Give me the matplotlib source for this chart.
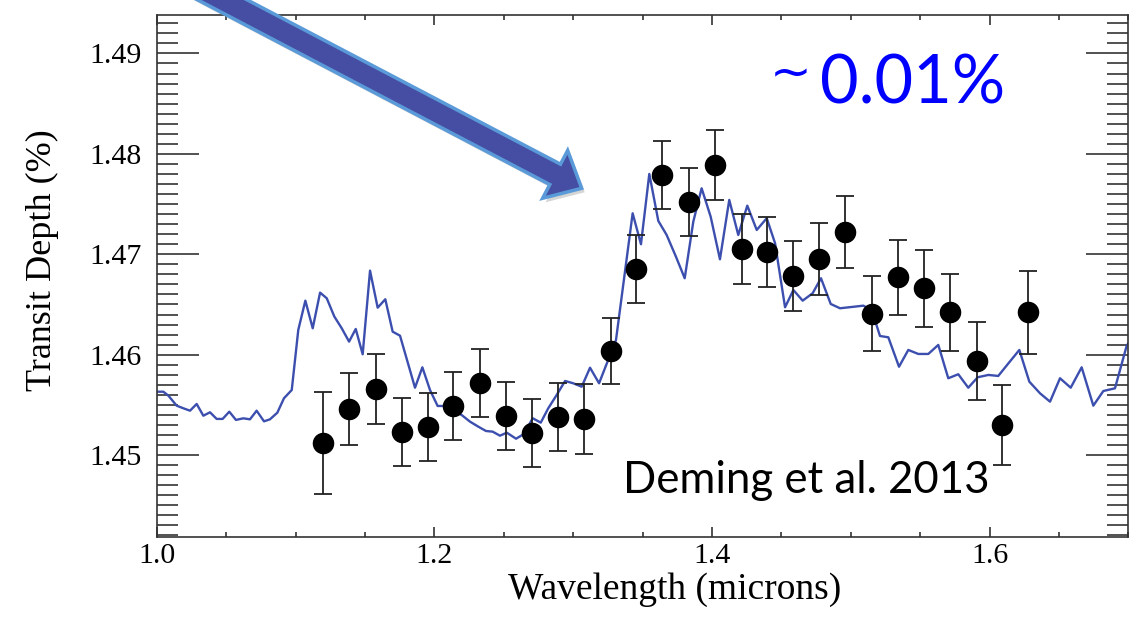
import matplotlib
matplotlib.use("Agg")
import matplotlib.pyplot as plt
from matplotlib.ticker import MultipleLocator, FormatStrFormatter
from matplotlib.patches import FancyArrow

# model transmission spectrum (traced vertices)
wave_model = [
    1.0000, 1.0048, 1.0084, 1.0144, 1.0192, 1.0240, 1.0288, 1.0336, 1.0384, 1.0432,
    1.0475, 1.0523, 1.0571, 1.0624, 1.0672, 1.0720, 1.0773, 1.0816, 1.0869, 1.0917,
    1.0973, 1.1020, 1.1071, 1.1124, 1.1177, 1.1225, 1.1280, 1.1333, 1.1386, 1.1434,
    1.1484, 1.1537, 1.1592, 1.1647, 1.1700, 1.1753, 1.1861, 1.1914, 1.1969, 1.2024,
    1.2077, 1.2197, 1.2257, 1.2317, 1.2372, 1.2421, 1.2473, 1.2522, 1.2589, 1.2646,
    1.2709, 1.2767, 1.2821, 1.2882, 1.2942, 1.3001, 1.3062, 1.3122, 1.3187, 1.3309,
    1.3429, 1.3489, 1.3549, 1.3614, 1.3674, 1.3741, 1.3804, 1.3866, 1.3926, 1.3991,
    1.4058, 1.4125, 1.4190, 1.4255, 1.4323, 1.4395, 1.4455, 1.4527, 1.4587, 1.4654,
    1.4726, 1.4786, 1.4856, 1.4923, 1.5091, 1.5151, 1.5211, 1.5271, 1.5348, 1.5415,
    1.5487, 1.5559, 1.5631, 1.5703, 1.5775, 1.5847, 1.5915, 1.5992, 1.6063, 1.6140,
    1.6215, 1.6287, 1.6364, 1.6436, 1.6508, 1.6585, 1.6664, 1.6748, 1.6820, 1.6904,
    1.6988, 1.7060,
]
depth_model = [
    1.45631, 1.45631, 1.45592, 1.45492, 1.45466, 1.45442, 1.45509, 1.45392, 1.45426, 1.45360,
    1.45360, 1.45432, 1.45350, 1.45366, 1.45356, 1.45442, 1.45336, 1.45356, 1.45422, 1.45566,
    1.45648, 1.46246, 1.46538, 1.46263, 1.46618, 1.46562, 1.46379, 1.46263, 1.46130, 1.46256,
    1.46004, 1.46837, 1.46468, 1.46552, 1.46229, 1.46189, 1.45671, 1.45874, 1.45648, 1.45489,
    1.45489, 1.45399, 1.45333, 1.45283, 1.45240, 1.45233, 1.45193, 1.45223, 1.45163, 1.45210,
    1.45367, 1.45323, 1.45466, 1.45599, 1.45738, 1.45715, 1.45681, 1.45870, 1.45715, 1.46146,
    1.47408, 1.47100, 1.47800, 1.47332, 1.47192, 1.46976, 1.46761, 1.47325, 1.47657, 1.47375,
    1.46950, 1.47541, 1.47192, 1.47484, 1.47242, 1.47359, 1.47110, 1.46472, 1.46644, 1.46538,
    1.46612, 1.46761, 1.46505, 1.46462, 1.46488, 1.46445, 1.46186, 1.46173, 1.45880, 1.46047,
    1.46007, 1.46007, 1.46097, 1.45765, 1.45805, 1.45671, 1.45775, 1.45798, 1.45788, 1.45920,
    1.46047, 1.45731, 1.45615, 1.45532, 1.45765, 1.45671, 1.45874, 1.45492, 1.45638, 1.45665,
    1.46087, 1.46250,
]

# WFC3 measurements
wave_obs = [
    1.1200, 1.1388, 1.1578, 1.1770, 1.1955, 1.2137, 1.2329, 1.2517, 1.2706, 1.2893,
    1.3081, 1.3271, 1.3453, 1.3643, 1.3833, 1.4020, 1.4215, 1.4397, 1.4587, 1.4774,
    1.4962, 1.5151, 1.5343, 1.5526, 1.5715, 1.5908, 1.6088, 1.6280,
]
depth_obs = [
    1.4512, 1.4546, 1.4566, 1.4523, 1.4528, 1.4549, 1.4572, 1.4539, 1.4522, 1.4538,
    1.4536, 1.4604, 1.4685, 1.4779, 1.4752, 1.4789, 1.4705, 1.4702, 1.4678, 1.4695,
    1.4722, 1.4641, 1.4677, 1.4666, 1.4642, 1.4594, 1.4530, 1.4642,
]
depth_err = [
    0.0051, 0.0036, 0.0035, 0.0034, 0.0034, 0.0034, 0.0034, 0.0034, 0.0034, 0.0034,
    0.0035, 0.0033, 0.0034, 0.0034, 0.0034, 0.0035, 0.0035, 0.0035, 0.0035, 0.0036,
    0.0036, 0.0037, 0.0037, 0.0038, 0.0038, 0.0039, 0.0040, 0.0041,
]

W, H = 1141, 621
fig = plt.figure(figsize=(W / 100, H / 100), dpi=100)
ax = fig.add_axes([156.7 / W, 1 - 537 / H, (1128.3 - 156.7) / W, (537 - 15.3) / H])

ax.plot(wave_model, depth_model, color="#3c4fae", lw=1.7, zorder=2)
ax.errorbar(wave_obs, depth_obs, yerr=depth_err, fmt="o", color="black", ms=14.5,
            ecolor="#222222", elinewidth=1.3, capsize=6.5, capthick=1.3, zorder=3)

ax.set_xlim(1.0, 1.7)
ax.set_ylim(1.44184, 1.4938)

serif = "Liberation Serif"
ax.xaxis.set_major_locator(MultipleLocator(0.2))
ax.xaxis.set_minor_locator(MultipleLocator(0.05))
ax.yaxis.set_major_locator(MultipleLocator(0.01))
ax.yaxis.set_minor_locator(MultipleLocator(0.001))
ax.xaxis.set_major_formatter(FormatStrFormatter("%.1f"))
ax.yaxis.set_major_formatter(FormatStrFormatter("%.2f"))

ax.tick_params(which="both", direction="in", top=True, right=True,
               color="#333333", width=1.2, labelsize=21.5)
ax.tick_params(axis="y", which="major", length=30, pad=11)
ax.tick_params(axis="y", which="minor", length=15)
ax.tick_params(axis="x", which="major", length=7, pad=4)
ax.tick_params(axis="x", which="minor", length=3.6)
for lab in ax.get_xticklabels() + ax.get_yticklabels():
    lab.set_family(serif)
for sp in ax.spines.values():
    sp.set_color("#333333")
    sp.set_linewidth(1.2)

# overlay in pixel coords for the slide annotations
ov = fig.add_axes([0, 0, 1, 1], zorder=5)
ov.set_xlim(0, W)
ov.set_ylim(H, 0)
ov.axis("off")
ov.patch.set_visible(False)

ov.text(42, 260, "Transit Depth (%)", rotation=90, ha="center", va="center",
        fontsize=26, family=serif)
ov.text(675, 590, "Wavelength (microns)", ha="center", va="center",
        fontsize=27, family=serif)

tail = (196, -14)
tip = (581.7, 188.3)
dx, dy = tip[0] - tail[0], tip[1] - tail[1]
shadow = FancyArrow(tail[0] + 3, tail[1] + 4, dx, dy, width=23, head_width=54,
                    head_length=30, length_includes_head=True,
                    color="#888888", alpha=0.35, lw=0)
ov.add_patch(shadow)
arrow = FancyArrow(tail[0], tail[1], dx, dy, width=23, head_width=54,
                   head_length=30, length_includes_head=True,
                   facecolor="#454ea3", edgecolor="#5a9ad8", lw=2.5)
ov.add_patch(arrow)

ov.text(791, 74, "~", ha="center", va="center", fontsize=36, color="#0000ff",
        family="DejaVu Sans")
ov.text(820, 103, "0.01%", ha="left", va="baseline", fontsize=48, color="#0000ff", family="Lato")
ov.text(623, 493, "Deming et al. 2013", ha="left", va="baseline", fontsize=31.5,
        color="black", family="Lato")

fig.savefig("out.png", dpi=100)
